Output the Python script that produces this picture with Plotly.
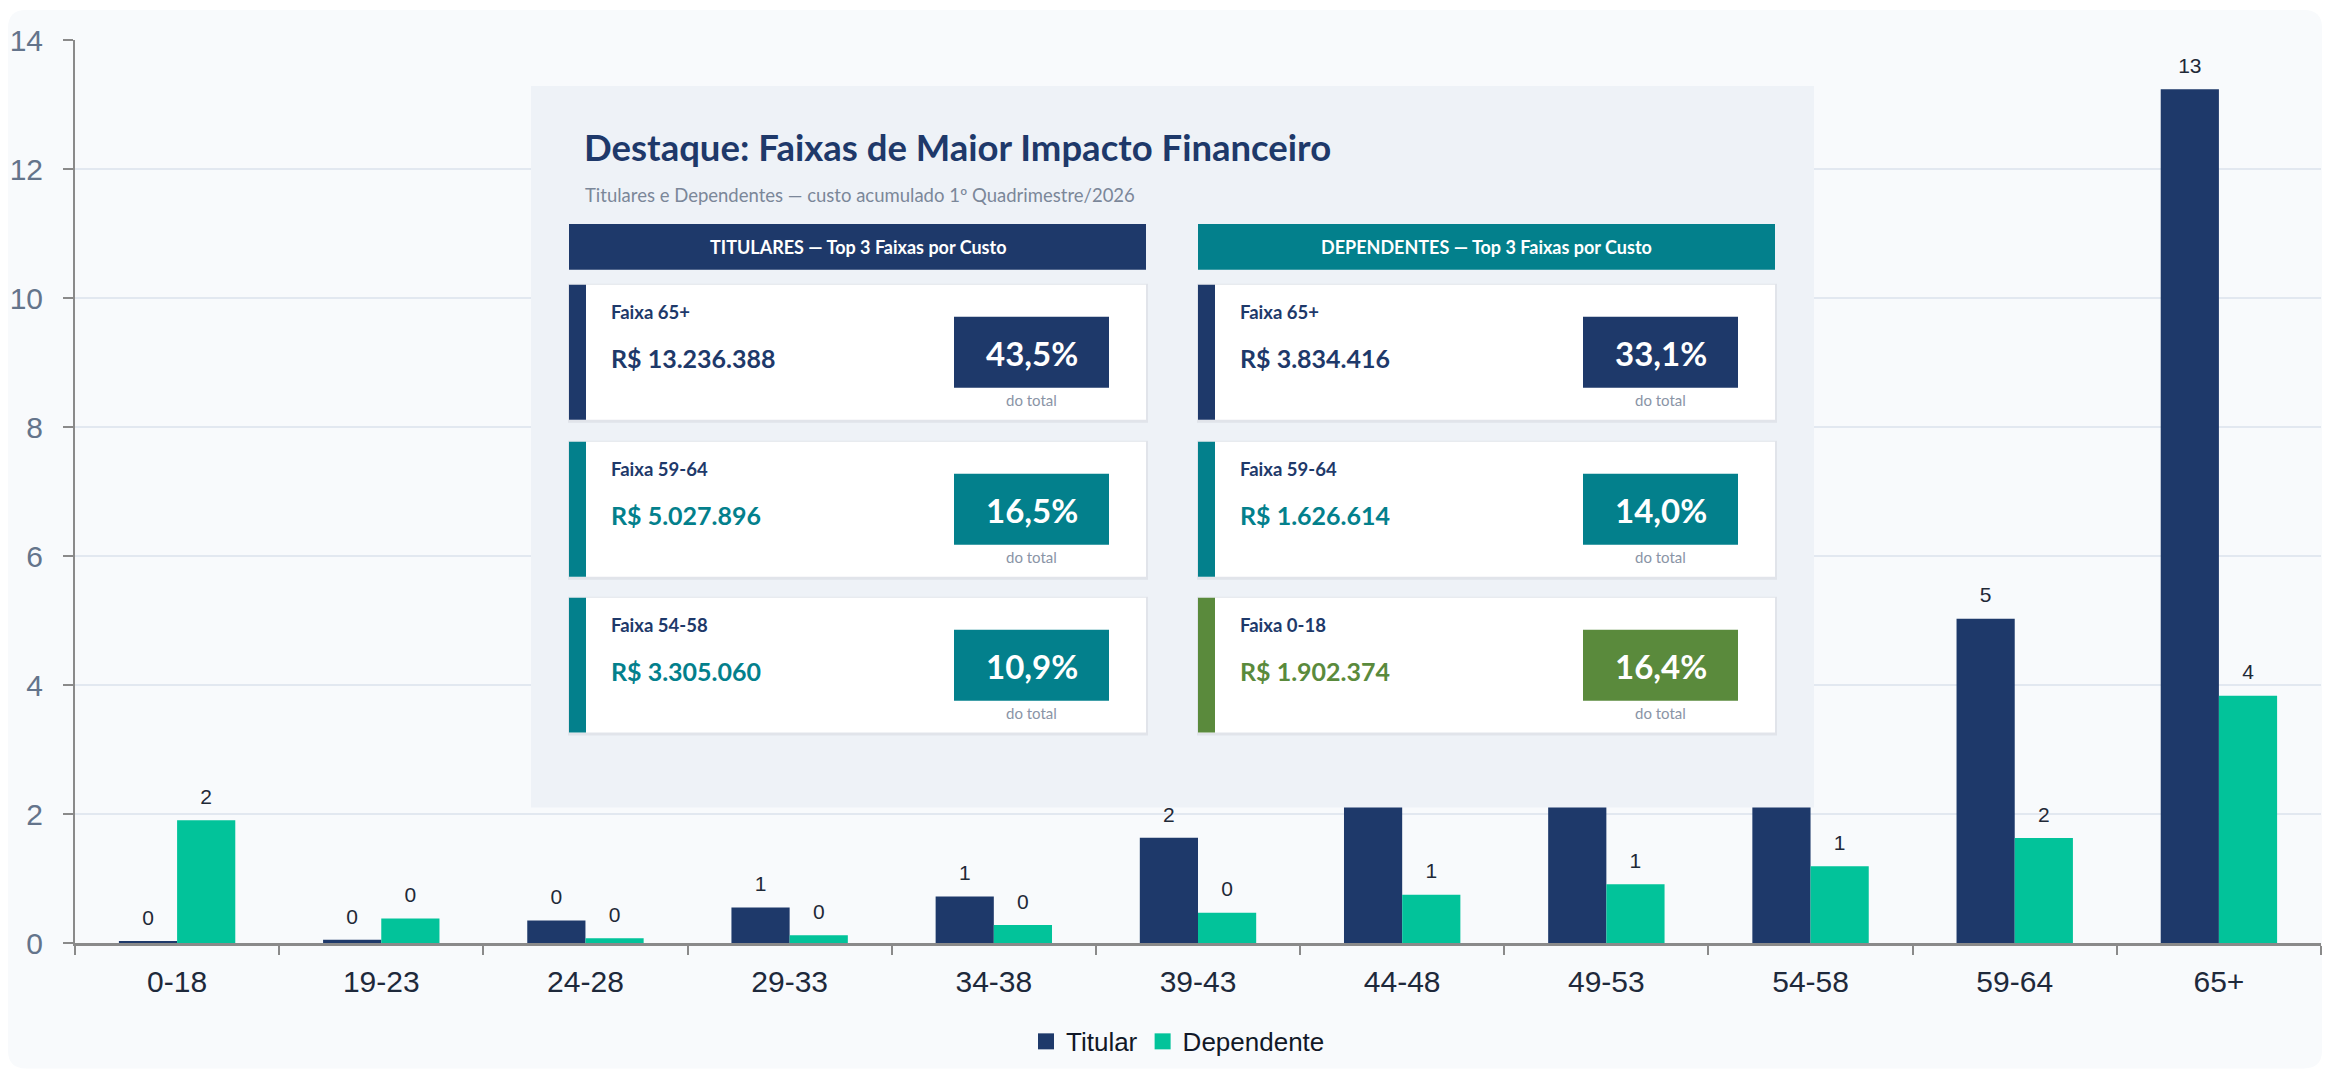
import plotly.graph_objects as go

# ── Dados (R$ milhões por faixa etária) ─────────────────────────────────
FAIXAS = ["0-18", "19-23", "24-28", "29-33", "34-38", "39-43",
          "44-48", "49-53", "54-58", "59-64", "65+"]
TITULAR = [0.02, 0.05, 0.35, 0.55, 0.72, 1.63, 2.6, 2.9, 3.305, 5.028, 13.236]
DEPENDENTE = [1.902, 0.38, 0.075, 0.12, 0.28, 0.47, 0.75, 0.91, 1.19, 1.627, 3.834]

# Destaque — top 3 faixas por custo
TIT_FAIXAS = ["65+", "59-64", "54-58"]
TIT_VALORES = [13236388, 5027896, 3305060]
TIT_PCT = [43.5, 16.5, 10.9]
DEP_FAIXAS = ["65+", "59-64", "0-18"]
DEP_VALORES = [3834416, 1626614, 1902374]
DEP_PCT = [33.1, 14.0, 16.4]

NAVY = "#1e396a"
MINT = "#02c39a"
TEAL = "#03808c"
GREEN = "#5a8a3c"
TIT_CORES = [NAVY, TEAL, TEAL]
DEP_CORES = [NAVY, TEAL, GREEN]

# página tem margem de 8px no body -> coordenadas medidas na página
OFF = 8
W, H = 2314, 1061
ML, MR, MT, MB = 67, 1, 32, 125.5
PW, PH = W - ML - MR, H - MT - MB

AXIS_FONT = "Liberation Sans, Arial, sans-serif"
CARD_FONT = "Lato, Open Sans, sans-serif"


def px(x):
    return (x - OFF - ML) / PW


def py(y):
    return (H - MB - (y - OFF)) / PH


def brl(v):
    return "R$ " + f"{v:,}".replace(",", ".")


def pct(p):
    return f"{p:.1f}".replace(".", ",") + "%"


fig = go.Figure()

for name, vals, color, grp in [("Titular", TITULAR, NAVY, "t"),
                                ("Dependente", DEPENDENTE, MINT, "d")]:
    fig.add_trace(go.Bar(
        x=FAIXAS, y=vals, name=name, offsetgroup=grp,
        marker=dict(color=color, line=dict(width=0)),
        showlegend=False, hoverinfo="skip",
    ))
    # rótulos acima das barras (marcador invisível afasta o texto)
    fig.add_trace(go.Scatter(
        x=FAIXAS, y=vals, offsetgroup=grp, mode="markers+text",
        marker=dict(size=16, color="rgba(0,0,0,0)"),
        text=[f"{v:.0f}" for v in vals], textposition="top center",
        textfont=dict(family=AXIS_FONT, size=21, color="#1f2937"),
        cliponaxis=False, showlegend=False, hoverinfo="skip",
    ))
    fig.add_trace(go.Scatter(
        x=[None], y=[None], mode="markers", name=name,
        marker=dict(symbol="square", size=17, color=color),
    ))

# ── fundo arredondado do card do gráfico ────────────────────────────────
def rounded_path(x0, y0, x1, y1, r):
    pts = [("M", x0 + r, y0), ("L", x1 - r, y0), ("Q", x1, y0, x1, y0 + r),
           ("L", x1, y1 - r), ("Q", x1, y1, x1 - r, y1), ("L", x0 + r, y1),
           ("Q", x0, y1, x0, y1 - r), ("L", x0, y0 + r), ("Q", x0, y0, x0 + r, y0)]
    out = []
    for p in pts:
        coords = []
        for i in range(1, len(p), 2):
            coords.append(f"{px(p[i]):.5f},{py(p[i + 1]):.5f}")
        out.append(p[0] + " " + " ".join(coords))
    return " ".join(out) + " Z"


fig.add_shape(type="path", xref="paper", yref="paper",
              path=rounded_path(8, 10, 2322, 1069, 18),
              fillcolor="#f8fafc", line_width=0, layer="below")


def rect(x0, y0, x1, y1, color):
    fig.add_shape(type="rect", xref="paper", yref="paper",
                  x0=px(x0), x1=px(x1), y0=py(y1), y1=py(y0),
                  fillcolor=color, line_width=0, layer="above")


def label(x, y, text, size, color, anchor="left", bold=False, family=CARD_FONT):
    fig.add_annotation(xref="paper", yref="paper", x=px(x), y=py(y),
                       text=f"<b>{text}</b>" if bold else text,
                       showarrow=False, xanchor=anchor, yanchor="middle",
                       font=dict(family=family, size=size, color=color))


# ── painel de destaque ──────────────────────────────────────────────────
rect(531, 86, 1814, 808, "#eef2f7")
label(582, 147, "Destaque: Faixas de Maior Impacto Financeiro", 36.5, NAVY, bold=True)
label(583, 195, "Titulares e Dependentes — custo acumulado 1º Quadrimestre/2026",
      18.5, "#7b8799")

CARD_TOPS = [285, 442, 598]
CARD_H = 135
for col_x, head, head_color, faixas, valores, pcts, cores in [
    (569, "TITULARES — Top 3 Faixas por Custo", NAVY,
     TIT_FAIXAS, TIT_VALORES, TIT_PCT, TIT_CORES),
    (1198, "DEPENDENTES — Top 3 Faixas por Custo", TEAL,
     DEP_FAIXAS, DEP_VALORES, DEP_PCT, DEP_CORES),
]:
    cw = 577
    rect(col_x, 224, col_x + cw, 270, head_color)
    label(col_x + cw / 2, 247, head, 18, "#ffffff", anchor="center", bold=True)
    for top, fx, val, p, cor in zip(CARD_TOPS, faixas, valores, pcts, cores):
        rect(col_x - 1, top - 1, col_x + cw + 2, top + CARD_H + 3, "rgba(15,23,42,0.06)")
        rect(col_x, top, col_x + cw, top + CARD_H, "#ffffff")
        rect(col_x, top, col_x + 17, top + CARD_H, cor)
        label(col_x + 40, top + 27, "Faixa " + fx, 18.5, NAVY, bold=True)
        label(col_x + 40, top + 73, brl(val), 25, cor, bold=True)
        rect(col_x + 385, top + 32, col_x + 540, top + 103, cor)
        label(col_x + 462.5, top + 68, pct(p), 33, "#ffffff", anchor="center", bold=True)
        label(col_x + 462.5, top + 115, "do total", 15, "#8a94a6", anchor="center")

fig.update_layout(
    width=W, height=H,
    margin=dict(l=ML, r=MR, t=MT, b=MB),
    paper_bgcolor="#ffffff",
    plot_bgcolor="rgba(0,0,0,0)",
    barmode="group", bargap=0.43, bargroupgap=0,
    scattermode="group", scattergap=0.43,
    hovermode=False,
    legend=dict(orientation="h", x=px(1178), y=py(1042),
                xanchor="center", yanchor="middle", itemsizing="trace",
                font=dict(family=AXIS_FONT, size=26, color="#111827"),
                bgcolor="rgba(0,0,0,0)"),
)
fig.update_xaxes(
    type="category", tickson="boundaries", ticks="outside", ticklen=9,
    tickwidth=2, tickcolor="#8a8a8a", showline=True, linewidth=2.5,
    linecolor="#8a8a8a", showgrid=False, ticklabelstandoff=10, automargin=False,
    tickfont=dict(family=AXIS_FONT, size=30, color="#1e293b"),
)
fig.update_yaxes(
    range=[0, 14], dtick=2, ticks="outside", ticklen=10, tickwidth=2,
    tickcolor="#8a8a8a", showline=True, linewidth=2, linecolor="#8a8a8a",
    gridcolor="#e2e8f0", gridwidth=1.5, zeroline=False, ticklabelstandoff=14,
    automargin=False,
    tickfont=dict(family=AXIS_FONT, size=30, color="#64748b"),
)

fig.write_html("out.html")
